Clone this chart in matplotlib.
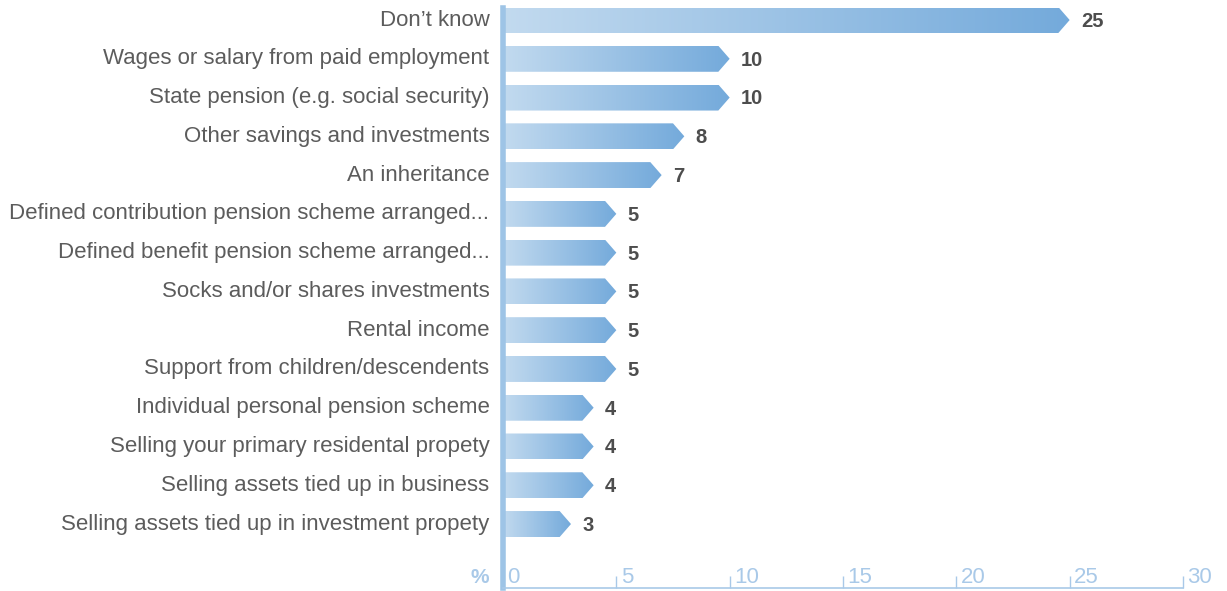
import numpy as np
import matplotlib
matplotlib.use("Agg")
import matplotlib.pyplot as plt
from matplotlib.patches import Polygon
from matplotlib.colors import LinearSegmentedColormap
import matplotlib.transforms as mtransforms

# sources of retirement income, top to bottom
categories = [
    "Don\u2019t know",
    "Wages or salary from paid employment",
    "State pension (e.g. social security)",
    "Other savings and investments",
    "An inheritance",
    "Defined contribution pension scheme arranged...",
    "Defined benefit pension scheme arranged...",
    "Socks and/or shares investments",
    "Rental income",
    "Support from children/descendents",
    "Individual personal pension scheme",
    "Selling your primary residental propety",
    "Selling assets tied up in business",
    "Selling assets tied up in investment propety",
]
values = [25, 10, 10, 8, 7, 5, 5, 5, 5, 5, 4, 4, 4, 3]
xticks = [0, 5, 10, 15, 20, 25, 30]

plt.rcParams["font.family"] = ["Liberation Sans", "DejaVu Sans"]

label_col = "#5c5c5c"
axis_col = "#a9c9e8"
grad = LinearSegmentedColormap.from_list("bar", ["#c2daef", "#74aadb"])

fig = plt.figure(figsize=(12.27, 5.91), dpi=100)
ax = fig.add_axes([503 / 1227, 3 / 591, 680 / 1227, 580 / 591])

ax.set_xlim(0, 30)
ax.set_ylim(14.65, -0.31)

bar_h = 0.67
tip = 0.5
gradient = np.linspace(0, 1, 256).reshape(1, -1)

for i, v in enumerate(values):
    y0, y1 = i - bar_h / 2, i + bar_h / 2
    pts = [(0, y0), (v - tip, y0), (v, i), (v - tip, y1), (0, y1)]
    poly = Polygon(pts, closed=True, facecolor="none", edgecolor="none")
    ax.add_patch(poly)
    im = ax.imshow(gradient, cmap=grad, aspect="auto",
                   extent=[0, v, y1, y0], interpolation="bicubic")
    im.set_clip_path(poly)
    ax.annotate(str(v), xy=(v, i), xytext=(8, -1), textcoords="offset points",
                ha="left", va="center", fontsize=14.5, fontweight="bold",
                color="#4d4d4d")
    ax.text(-0.6, i, categories[i], ha="right", va="center",
            fontsize=16, color=label_col)

# axes styling
for s in ["top", "right"]:
    ax.spines[s].set_visible(False)
ax.spines["left"].set_color("#9ec4e6")
ax.spines["left"].set_linewidth(4)
ax.spines["bottom"].set_color(axis_col)
ax.spines["bottom"].set_linewidth(1.2)
ax.set_yticks([])
ax.set_xticks(xticks)
ax.set_xticklabels([])
ax.tick_params(axis="x", direction="in", length=9, width=1, color=axis_col)

trans = mtransforms.blended_transform_factory(ax.transData, ax.transAxes)
for t in xticks:
    ax.text(t + 0.2, 0.018, str(t), transform=trans, ha="left", va="center",
            fontsize=16, color=axis_col)
ax.text(-0.6, 0.018, "%", transform=trans, ha="right", va="center",
        fontsize=15, fontweight="bold", color=axis_col)

fig.savefig("out.png", dpi=100)
